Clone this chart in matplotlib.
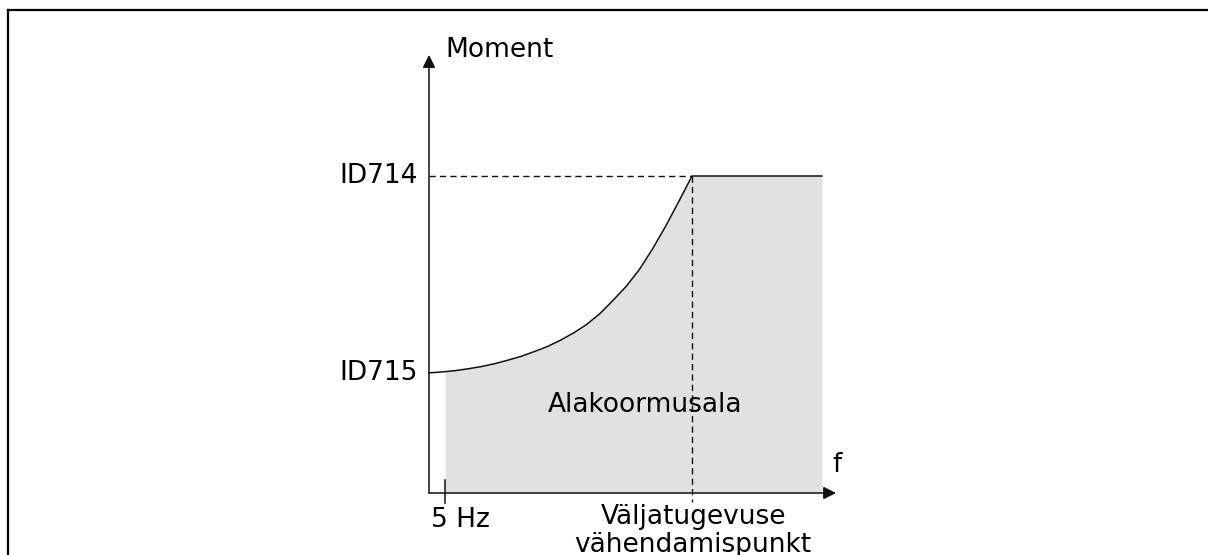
import matplotlib
matplotlib.use("Agg")
import matplotlib.pyplot as plt
from matplotlib.lines import Line2D
import numpy as np

# Torque limit curve (frequency relative to the field weakening point,
# torque relative to the ID714 level)
curve_f = [0.00, 0.05, 0.10, 0.15, 0.20, 0.25, 0.30, 0.35, 0.40, 0.45, 0.50,
           0.55, 0.60, 0.65, 0.70, 0.75, 0.80, 0.85, 0.90, 0.95, 1.00]
curve_t = [0.379, 0.382, 0.386, 0.392, 0.399, 0.408, 0.419, 0.431, 0.446, 0.462, 0.482,
           0.505, 0.532, 0.566, 0.608, 0.652, 0.705, 0.770, 0.842, 0.920, 1.000]

level_labels = ["ID714", "ID715"]
level_values = [1.0, 0.379]

f_min = 0.061          # 5 Hz
f_weak = 1.0           # field weakening point
f_end = 1.494          # end of the flat part
x_label_min = "5 Hz"
x_label_weak = ["Väljatugevuse", "vähendamispunkt"]
area_label = "Alakoormusala"
y_title = "Moment"
x_title = "f"

W, H = 1208, 555
FS = 19
LINE = "#111111"

fig = plt.figure(figsize=(W / 100, H / 100), dpi=100)
ax = fig.add_axes([0, 0, 1, 1])
ax.axis("off")

# map pixel layout to data units: origin at (429, 493) px
px_f, px_t = 263.0, 317.0
ax.set_xlim(-429 / px_f, (W - 429) / px_f)
ax.set_ylim((493 - H) / px_t, 493 / px_t)

# shaded underload area
cf = np.array(curve_f)
ct = np.array(curve_t)
t_start = np.interp(f_min, cf, ct)
keep = cf > f_min
fill_f = np.concatenate([[f_min], cf[keep], [f_end]])
fill_t = np.concatenate([[t_start], ct[keep], [level_values[0]]])
ax.fill_between(fill_f, 0, fill_t, color="#e1e1e1", lw=0, zorder=1)

# curve and flat limit
ax.plot(curve_f + [f_end], curve_t + [level_values[0]], color=LINE, lw=1.1,
        solid_joinstyle="round", zorder=3)

# dashed guides
ax.plot([0, f_weak], [level_values[0]] * 2, color=LINE, lw=1.0,
        dashes=(4.5, 3), zorder=3)
ax.plot([f_weak, f_weak], [level_values[0], -0.028], color=LINE, lw=1.0,
        dashes=(4.5, 3), zorder=3)

# axes with arrows
arrow = dict(arrowstyle="-|>", mutation_scale=19, lw=1.1, color=LINE,
             shrinkA=0, shrinkB=0)
ax.annotate("", xy=(0, 1.382), xytext=(0, 0), arrowprops=arrow, zorder=4)
ax.annotate("", xy=(1.548, 0), xytext=(0, 0), arrowprops=arrow, zorder=4)

# 5 Hz tick
ax.plot([f_min, f_min], [0.04, -0.033], color=LINE, lw=1.1, zorder=4)

# text
for lab, val in zip(level_labels, level_values):
    ax.text(-0.042, val, lab, ha="right", va="center", fontsize=FS)
ax.text(0.061, 1.397, y_title, ha="left", va="center", fontsize=FS)
ax.text(1.532, 0.088, x_title, ha="left", va="center", fontsize=FS)
ax.text(0.821, 0.278, area_label, ha="center", va="center", fontsize=FS, zorder=5)
ax.text(0.118, -0.085, x_label_min, ha="center", va="center", fontsize=FS)
ax.text(1.004, -0.076, x_label_weak[0], ha="center", va="center", fontsize=FS)
ax.text(1.004, -0.164, x_label_weak[1], ha="center", va="center", fontsize=FS)

# frame around the figure (open at right and bottom)
x0, y0 = 8 / W, 1 - 10 / H
fig.add_artist(Line2D([x0, x0], [0, y0], transform=fig.transFigure, color="black", lw=1.6))
fig.add_artist(Line2D([x0, 1], [y0, y0], transform=fig.transFigure, color="black", lw=1.6))

fig.savefig("out.png", dpi=100)
